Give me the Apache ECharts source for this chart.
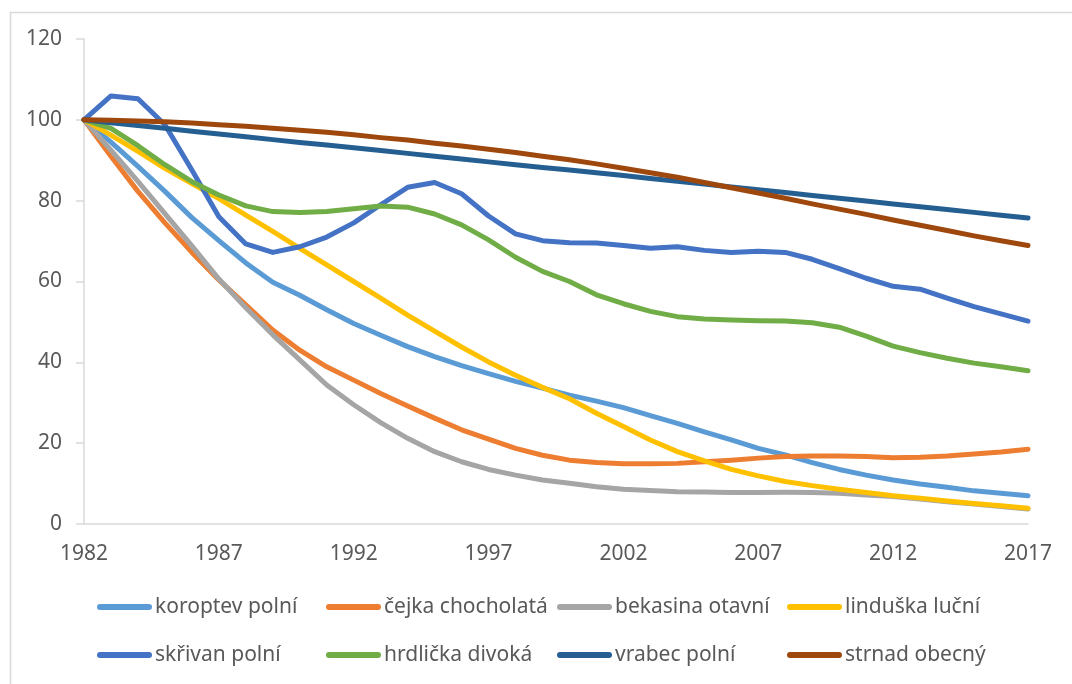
<!DOCTYPE html>
<html>
<head>
<meta charset="utf-8">
<script src="https://cdn.jsdelivr.net/npm/echarts@6/dist/echarts.min.js"></script>
<style>
html,body{margin:0;padding:0;background:#fff;}
#chart{width:1072px;height:684px;}
</style>
</head>
<body>
<div id="chart"></div>
<script>
const years = [];
for (let y = 1982; y <= 2017; y++) years.push(String(y));

const seriesNames = ['koroptev polní','čejka chocholatá','bekasina otavní','linduška luční','skřivan polní','hrdlička divoká','vrabec polní','strnad obecný'];

const koroptev = [100, 94.5, 88.5, 82.3, 75.8, 70.1, 64.6, 59.8, 56.6, 53.0,
  49.6, 46.7, 43.9, 41.4, 39.2, 37.2, 35.3, 33.6, 31.9, 30.4,
  28.8, 26.8, 24.9, 22.8, 20.8, 18.7, 17.1, 15.2, 13.5, 12.1,
  10.9, 9.9, 9.1, 8.2, 7.6, 7.0];
const cejka = [100, 91.0, 82.3, 74.5, 67.2, 60.4, 54.2, 48.0, 43.0, 38.9,
  35.6, 32.3, 29.2, 26.2, 23.3, 21.0, 18.7, 17.0, 15.8, 15.2,
  14.9, 14.9, 15.0, 15.4, 15.8, 16.3, 16.7, 16.8, 16.8, 16.7,
  16.4, 16.5, 16.8, 17.3, 17.8, 18.5];
const bekasina = [100, 92.5, 84.8, 76.8, 68.8, 60.6, 53.5, 46.8, 40.6, 34.4,
  29.5, 25.1, 21.2, 17.9, 15.4, 13.5, 12.1, 10.9, 10.1, 9.2,
  8.6, 8.3, 8.0, 7.9, 7.8, 7.8, 7.85, 7.8, 7.6, 7.2,
  6.8, 6.2, 5.5, 4.95, 4.3, 3.7];
const linduska = [100, 96.2, 92.2, 88.0, 84.2, 80.5, 76.4, 72.4, 68.2, 64.1,
  60.0, 55.9, 51.7, 47.7, 43.8, 40.1, 36.8, 33.8, 31.0, 27.4,
  24.1, 20.8, 17.9, 15.6, 13.5, 11.9, 10.5, 9.5, 8.6, 7.8,
  7.0, 6.4, 5.7, 5.1, 4.5, 3.9];
const skrivan = [100, 105.9, 105.2, 98.8, 87.6, 76.0, 69.3, 67.2, 68.6, 71.0,
  74.5, 79.0, 83.3, 84.5, 81.7, 76.2, 71.8, 70.1, 69.6, 69.5,
  68.9, 68.2, 68.6, 67.7, 67.2, 67.5, 67.2, 65.5, 63.2, 60.8,
  58.8, 58.1, 55.9, 53.8, 52.0, 50.2];
const hrdlicka = [100, 97.9, 93.6, 88.9, 84.7, 81.4, 78.7, 77.3, 77.1, 77.3,
  78.0, 78.7, 78.4, 76.7, 74.0, 70.3, 66.0, 62.5, 60.0, 56.7,
  54.5, 52.6, 51.3, 50.7, 50.5, 50.3, 50.2, 49.8, 48.7, 46.5,
  44.0, 42.4, 41.0, 39.8, 38.9, 37.9];
const vrabec = [100, 99.3, 98.6, 97.9, 97.2, 96.5, 95.8, 95.1, 94.4, 93.8,
  93.1, 92.4, 91.7, 91.0, 90.3, 89.6, 88.9, 88.2, 87.6, 86.9,
  86.2, 85.5, 84.8, 84.1, 83.4, 82.7, 82.0, 81.3, 80.6, 79.9,
  79.2, 78.5, 77.8, 77.1, 76.4, 75.7];
const strnad = [100, 99.9, 99.7, 99.5, 99.2, 98.8, 98.4, 97.9, 97.4, 96.9,
  96.3, 95.6, 95.0, 94.2, 93.5, 92.7, 91.9, 91.0, 90.1, 89.1,
  88.0, 86.9, 85.8, 84.5, 83.2, 81.9, 80.6, 79.2, 77.9, 76.6,
  75.2, 73.9, 72.6, 71.3, 70.1, 68.9];

const seriesValues = [koroptev, cejka, bekasina, linduska, skrivan, hrdlicka, vrabec, strnad];
const colors = ['#5B9BD5','#ED7D31','#A5A5A5','#FFC000','#4472C4','#70AD47','#255E91','#9E480E'];

const FONT = "'Noto Sans', 'DejaVu Sans', sans-serif";
const legendCols = [97, 326, 557, 787];
const legendRows = [595, 643];

const legends = seriesNames.map((n, i) => ({
  data: [{ name: n, icon: 'path://M3,0 L52,0 A3,3 0 0 1 52,6 L3,6 A3,3 0 0 1 3,0 Z', itemStyle: { color: colors[i] } }],
  left: legendCols[i % 4],
  top: legendRows[Math.floor(i / 4)],
  padding: 0,
  itemWidth: 55,
  itemHeight: 6,
  itemGap: 0,
  selectedMode: false,
  textStyle: { color: '#595959', fontSize: 21, fontFamily: FONT, lineHeight: 24, padding: [0, 0, 0, -2] }
}));

const chart = echarts.init(document.getElementById('chart'), null, { renderer: 'canvas' });
chart.setOption({
  backgroundColor: '#ffffff',
  animation: false,
  graphic: [{
    type: 'rect', left: 8, top: 10,
    shape: { width: 1120, height: 720 },
    style: { fill: 'none', stroke: '#D9D9D9', lineWidth: 1.5 },
    silent: true
  }],
  legend: legends,
  grid: { left: 84, right: 44, top: 39, bottom: 160, containLabel: false },
  xAxis: {
    type: 'category',
    data: years,
    boundaryGap: false,
    axisLine: { show: true, lineStyle: { color: '#D9D9D9', width: 1.5 } },
    axisTick: { show: false },
    axisLabel: { interval: 4, color: '#595959', fontSize: 21, fontFamily: FONT, margin: 20 },
    splitLine: { show: false }
  },
  yAxis: {
    type: 'value',
    min: 0, max: 120, interval: 20,
    axisLine: { show: true, lineStyle: { color: '#D9D9D9', width: 1.5 } },
    axisTick: { show: true, length: 8, lineStyle: { color: '#D9D9D9', width: 1.5 } },
    axisLabel: { color: '#595959', fontSize: 21, fontFamily: FONT, margin: 22 },
    splitLine: { show: false }
  },
  series: seriesNames.map((n, i) => ({
    name: n,
    type: 'line',
    data: seriesValues[i],
    symbol: 'none',
    smooth: false,
    color: colors[i],
    lineStyle: { color: colors[i], width: 5, cap: 'round', join: 'round' },
    z: 2 + i
  }))
});
</script>
</body>
</html>
